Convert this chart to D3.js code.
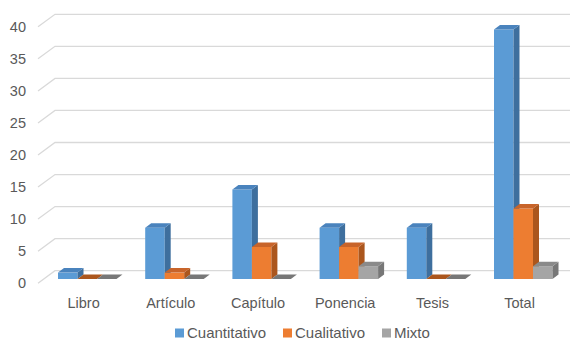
<!DOCTYPE html>
<meta charset="utf-8">
<html>
<head>
<title>Tipo de publicación</title>
<style>
  body { margin: 0; background: #fff; }
  text { font-family: "Liberation Sans", Arial, sans-serif; fill: #595959; }
  .grid { stroke: #d9d9d9; stroke-width: 1.3px; fill: none; }
</style>
</head>
<body>
<div id="chartContainer"></div>
<script src="https://d3js.org/d3.v7.min.js"></script>
<script type="text/javascript">

  // chart data
  var categories = ["Libro", "Artículo", "Capítulo", "Ponencia", "Tesis", "Total"];
  var series = ["Cuantitativo", "Cualitativo", "Mixto"];
  var cuantitativo = [1, 8, 14, 8, 8, 39];
  var cualitativo = [0, 1, 5, 5, 0, 11];
  var mixto = [0, 0, 0, 2, 0, 2];
  var yTicks = [0, 5, 10, 15, 20, 25, 30, 35, 40];

  var values = [cuantitativo, cualitativo, mixto];

  // face colours: front, side, top
  var colors = {
    "Cuantitativo": ["#5b9bd5", "#3e6f9e", "#4a83bd"],
    "Cualitativo": ["#ed7d31", "#ab561d", "#c8642a"],
    "Mixto": ["#a5a5a5", "#777777", "#8a8a8a"]
  };

  var svg = d3.select("#chartContainer").append("svg")
      .attr("width", 575).attr("height", 348);

  // 3D geometry
  var wallDx = 17, wallDy = -12.5;   // floor depth (front -> back wall)
  var barDx = 6, barDy = -4.5;       // bar depth
  var wallLeft = 55, wallRight = 570;

  // back-wall gridline scale and bar scale
  var yGrid = d3.scaleLinear().domain([0, 40]).range([270.7, 14.3]);
  var yBar = d3.scaleLinear().domain([0, 40]).range([279, 23]);

  var x = d3.scaleBand().domain(categories).range([44, 44 + 6 * 87.2]);
  var xs = d3.scaleBand().domain(series).range([14, 14 + 58.5]);

  // gridlines
  yTicks.forEach(function (t) {
    var yb = yGrid(t);
    svg.append("path").attr("class", "grid")
      .attr("d", "M" + (wallLeft - wallDx) + "," + (yb - wallDy) +
                 "L" + wallLeft + "," + yb + "L" + wallRight + "," + yb);
    svg.append("text")
      .attr("x", 26).attr("y", yb - wallDy)
      .attr("dy", "0.35em")
      .attr("text-anchor", "end")
      .style("font-size", "14.5px")
      .text(t);
  });

  // bars
  categories.forEach(function (c, ci) {
    series.forEach(function (s, si) {
      var v = values[si][ci];
      var x0 = x(c) + xs(s), x1 = x0 + xs.bandwidth();
      var y0 = yBar(0), y1 = yBar(v);
      var col = colors[s];
      var g = svg.append("g");
      if (v > 0) {
        g.append("path").attr("fill", col[0])
          .attr("d", "M" + x0 + "," + y0 + "L" + x1 + "," + y0 + "L" + x1 + "," + y1 + "L" + x0 + "," + y1 + "Z");
        g.append("path").attr("fill", col[1])
          .attr("d", "M" + x1 + "," + y0 + "L" + (x1 + barDx) + "," + (y0 + barDy) +
                     "L" + (x1 + barDx) + "," + (y1 + barDy) + "L" + x1 + "," + y1 + "Z");
      }
      g.append("path").attr("fill", v > 0 ? col[2] : col[1])
        .attr("d", "M" + x0 + "," + y1 + "L" + x1 + "," + y1 + "L" + (x1 + barDx) + "," + (y1 + barDy) +
                   "L" + (x0 + barDx) + "," + (y1 + barDy) + "Z");
    });
  });

  // category labels
  svg.selectAll("catLabel")
    .data(categories)
    .enter()
    .append("text")
      .attr("x", function (d) { return x(d) + x.bandwidth() / 2 - 4; })
      .attr("y", 303)
      .attr("dy", "0.35em")
      .attr("text-anchor", "middle")
      .style("font-size", "14.5px")
      .text(function (d) { return d; });

  // legend
  var legendX = [175, 283, 382];
  series.forEach(function (s, i) {
    svg.append("rect")
      .attr("x", legendX[i]).attr("y", 328.5)
      .attr("width", 9).attr("height", 9)
      .attr("fill", colors[s][0]);
    svg.append("text")
      .attr("x", legendX[i] + 12).attr("y", 333)
      .attr("dy", "0.35em")
      .style("font-size", "15px")
      .text(s);
  });

</script>
</body>
</html>
